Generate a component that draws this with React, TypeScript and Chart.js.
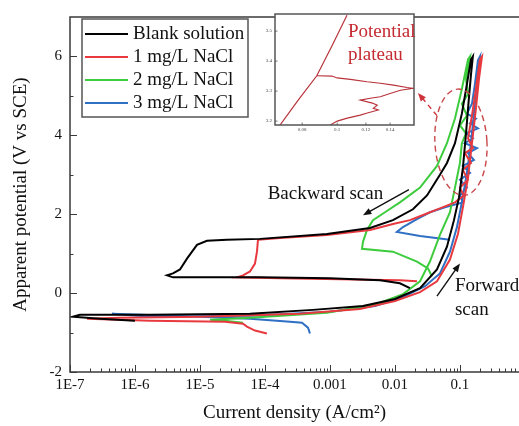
import React, { useEffect, useRef } from "react";
import { Chart, registerables } from "chart.js";
Chart.register(...registerables);

const FONT = "'Liberation Serif', 'Times New Roman', serif";
const AXIS_COLOR = "#3a3a3a";

const seriesLabels = ["Blank solution", "1 mg/L NaCl", "2 mg/L NaCl", "3 mg/L NaCl"];
const seriesColors = ["#000000", "#e8393f", "#3dcc3d", "#2f6fc4"];

const blankCurrent = [1.0e-6, 2.89e-7, 1.11e-7, 1.42e-7, 1.7e-6, 5.88e-5, 5.47e-4, 3.22e-3, 0.01, 0.0243, 0.0443, 0.0631, 0.0809, 0.0966, 0.111, 0.124, 0.137, 0.148, 0.158, 0.148, 0.128, 0.107, 0.0838, 0.0631, 0.0492, 0.0311, 0.0189, 9.31e-3, 4.13e-3, 8.99e-4, 8.38e-5, 2.6e-5, 1.28e-5, 8.99e-6, 6.31e-6, 4.92e-6, 3.84e-6, 3.11e-6, 3.84e-6, 8.38e-5, 1.0e-3, 5.88e-3, 0.0119, 0.017];
const blankPotential = [-0.7, -0.65, -0.6, -0.55, -0.55, -0.525, -0.425, -0.325, -0.15, 0.125, 0.6, 1.175, 1.85, 2.425, 3.175, 4.05, 4.925, 5.55, 6.0, 5.925, 5.3, 4.55, 3.8, 3.3, 3.0, 2.475, 2.125, 1.85, 1.65, 1.5, 1.375, 1.35, 1.325, 1.225, 0.875, 0.6, 0.5, 0.45, 0.4, 0.4, 0.375, 0.325, 0.25, 0.125];

const nacl1Current = [1.07e-4, 7.02e-5, 5.28e-5, 4.59e-5, 2.43e-5, 1.7e-6, 1.83e-7, 5.88e-7, 1.0e-5, 3.45e-4, 2.89e-3, 0.01, 0.0243, 0.0443, 0.0702, 0.0931, 0.111, 0.133, 0.153, 0.176, 0.196, 0.218, 0.203, 0.176, 0.153, 0.133, 0.158, 0.119, 0.148, 0.111, 0.133, 0.1, 0.115, 0.0838, 0.0492, 0.029, 0.017, 9.31e-3, 4.13e-3, 8.99e-4, 1.7e-4, 7.8e-5, 7.53e-5, 7.02e-5, 5.88e-5, 4.59e-5, 3.71e-5, 1.7e-4, 1.43e-3, 0.0119, 0.0218];
const nacl1Potential = [-1.025, -0.95, -0.85, -0.775, -0.725, -0.7, -0.65, -0.625, -0.6, -0.525, -0.4, -0.2, 0.025, 0.3, 0.85, 1.5, 2.175, 2.925, 3.8, 4.675, 5.425, 6.0, 5.925, 5.175, 4.5, 3.925, 3.675, 3.55, 3.3, 3.125, 2.875, 2.675, 2.475, 2.3, 2.15, 2.0, 1.85, 1.75, 1.6, 1.475, 1.4, 1.35, 1.05, 0.75, 0.55, 0.45, 0.4, 0.375, 0.35, 0.325, 0.3];

const nacl2Current = [4.59e-5, 2.43e-5, 1.43e-5, 5.88e-5, 8.99e-4, 5.28e-3, 0.0133, 0.0243, 0.0345, 0.0492, 0.0702, 0.0838, 0.1, 0.107, 0.124, 0.1, 0.128, 0.107, 0.133, 0.124, 0.137, 0.143, 0.133, 0.107, 0.0838, 0.0631, 0.0443, 0.0243, 0.0119, 7.02e-3, 4.59e-3, 3.71e-3, 3.22e-3, 3.11e-3, 9.31e-3, 0.0218, 0.0322, 0.0371];
const nacl2Potential = [-0.75, -0.7, -0.675, -0.625, -0.5, -0.275, -0.025, 0.3, 0.8, 1.475, 2.05, 2.675, 3.3, 3.8, 4.05, 4.25, 4.5, 4.8, 5.05, 5.425, 5.8, 6.0, 5.925, 5.175, 4.425, 3.8, 3.225, 2.675, 2.3, 2.05, 1.85, 1.6, 1.3, 1.125, 1.05, 0.8, 0.625, 0.425];

const nacl3Current = [4.92e-4, 4.59e-4, 3.71e-4, 2.43e-4, 5.88e-5, 1.0e-5, 4.43e-7, 1.7e-6, 5.88e-5, 1.0e-3, 4.92e-3, 0.0133, 0.029, 0.0492, 0.0702, 0.0899, 0.107, 0.128, 0.148, 0.164, 0.183, 0.196, 0.203, 0.189, 0.17, 0.153, 0.128, 0.176, 0.143, 0.189, 0.124, 0.158, 0.119, 0.183, 0.133, 0.164, 0.111, 0.143, 0.1, 0.128, 0.1, 0.111, 0.0588, 0.0345, 0.0218, 0.0133, 0.0107, 0.0243, 0.0702];
const nacl3Potential = [-1.025, -0.875, -0.75, -0.725, -0.65, -0.6, -0.525, -0.6, -0.575, -0.475, -0.325, -0.1, 0.175, 0.5, 1.05, 1.675, 2.3, 3.05, 3.8, 4.55, 5.3, 5.8, 6.0, 5.9, 5.3, 4.8, 4.55, 4.425, 4.3, 4.175, 4.05, 3.925, 3.8, 3.675, 3.55, 3.375, 3.225, 3.05, 2.875, 2.675, 2.475, 2.3, 2.175, 2.05, 1.875, 1.675, 1.55, 1.45, 1.35];

const xTickValues = [1e-7, 1e-6, 1e-5, 1e-4, 1e-3, 1e-2, 1e-1];
const xTickLabels = ["1E-7", "1E-6", "1E-5", "1E-4", "0.001", "0.01", "0.1"];
const yTickValues = [-2, 0, 2, 4, 6];

// inset (zoom on the potential plateau)
const insetDiagCurrent = [0.0695, 0.078, 0.0878, 0.0969, 0.1064];
const insetDiagPotential = [3.187, 3.27, 3.351, 3.453, 3.553];
const insetLoopCurrent = [0.0878, 0.0967, 0.0999, 0.1087, 0.1209, 0.1315, 0.143, 0.156, 0.162, 0.1495, 0.14, 0.1315, 0.1234, 0.1158, 0.125, 0.129, 0.1258, 0.1299, 0.1211, 0.1158, 0.1066, 0.1, 0.0957];
const insetLoopPotential = [3.351, 3.35, 3.344, 3.339, 3.331, 3.326, 3.32, 3.312, 3.309, 3.303, 3.292, 3.281, 3.276, 3.27, 3.26, 3.253, 3.243, 3.237, 3.227, 3.22, 3.21, 3.2, 3.187];
const insetXTicks = [0.08, 0.1, 0.12, 0.14];
const insetXLabels = ["0.08", "0.1", "0.12", "0.14"];
const insetYTicks = [3.2, 3.3, 3.4, 3.5];
const insetYLabels = ["3.2", "3.3", "3.4", "3.5"];

// annotation anchors in data units
const backwardText = { text: "Backward scan", x: 1.1e-4, y: 2.5 };
const backwardArrow = { x1: 0.0164, y1: 2.625, x2: 3.22e-3, y2: 1.975 };
const forwardText = { lines: ["Forward", "scan"], x: 0.0838, y: [0.175, -0.425] };
const forwardArrow = { x1: 0.0443, y1: -0.075, x2: 0.1, y2: 0.75 };
const ellipseBox = { x0: 0.0412, x1: 0.26, y0: 2.475, y1: 5.175 };
const plateauArrow = { x1: 0.0443, y1: 4.5, x2: 0.0226, y2: 5.075 };

function toPoints(xs: number[], ys: number[]) {
  return xs.map((x, i) => ({ x, y: ys[i] }));
}

function drawArrow(ctx: CanvasRenderingContext2D, x1: number, y1: number, x2: number, y2: number, color: string, dashed: boolean) {
  const a = Math.atan2(y2 - y1, x2 - x1);
  const head = 9;
  ctx.save();
  ctx.strokeStyle = color;
  ctx.fillStyle = color;
  ctx.lineWidth = 1.4;
  if (dashed) ctx.setLineDash([5, 4]);
  ctx.beginPath();
  ctx.moveTo(x1, y1);
  ctx.lineTo(x2 - Math.cos(a) * head * 0.7, y2 - Math.sin(a) * head * 0.7);
  ctx.stroke();
  ctx.setLineDash([]);
  ctx.beginPath();
  ctx.moveTo(x2, y2);
  ctx.lineTo(x2 - head * Math.cos(a - 0.38), y2 - head * Math.sin(a - 0.38));
  ctx.lineTo(x2 - head * Math.cos(a + 0.38), y2 - head * Math.sin(a + 0.38));
  ctx.closePath();
  ctx.fill();
  ctx.restore();
}

const mainDecor = {
  id: "mainDecor",
  afterDraw(chart: any) {
    const { ctx, chartArea: ca, scales } = chart;
    const xs = scales.x;
    const ys = scales.y;
    const px = (v: number) => xs.getPixelForValue(v);
    const py = (v: number) => ys.getPixelForValue(v);
    ctx.save();
    // frame
    ctx.strokeStyle = AXIS_COLOR;
    ctx.lineWidth = 1.5;
    ctx.beginPath();
    ctx.moveTo(ca.right, ca.top);
    ctx.lineTo(ca.left, ca.top);
    ctx.lineTo(ca.left, ca.bottom);
    ctx.lineTo(ca.right, ca.bottom);
    ctx.stroke();
    // inward ticks
    ctx.lineWidth = 1;
    ctx.beginPath();
    for (let e = -7; e <= 0; e++) {
      for (let m = 1; m <= 9; m++) {
        const v = m * Math.pow(10, e);
        if (v > xs.max) break;
        const x = Math.round(px(v)) + 0.5;
        const len = m === 1 ? 7 : 3.5;
        ctx.moveTo(x, ca.bottom);
        ctx.lineTo(x, ca.bottom - len);
      }
    }
    for (let v = -2; v <= 6; v++) {
      const y = Math.round(py(v)) + 0.5;
      const len = v % 2 === 0 ? 7 : 3.5;
      ctx.moveTo(ca.left, y);
      ctx.lineTo(ca.left + len, y);
    }
    ctx.stroke();

    // legend
    const lx = ca.left + 12;
    const ly = ca.top + 2;
    ctx.fillStyle = "#ffffff";
    ctx.fillRect(lx, ly, 166, 98);
    ctx.strokeStyle = "#555";
    ctx.lineWidth = 1.5;
    ctx.strokeRect(lx, ly, 166, 98);
    ctx.font = `19px ${FONT}`;
    ctx.textBaseline = "middle";
    ctx.textAlign = "left";
    chart.data.datasets.forEach((ds: any, i: number) => {
      const y = ca.top + 17 + i * 23;
      ctx.strokeStyle = ds.borderColor;
      ctx.lineWidth = 2;
      ctx.beginPath();
      ctx.moveTo(ca.left + 15, y);
      ctx.lineTo(ca.left + 58, y);
      ctx.stroke();
      ctx.fillStyle = "#111";
      ctx.fillText(ds.label, ca.left + 63, y);
    });

    // annotations
    ctx.fillStyle = "#111";
    ctx.fillText(backwardText.text, px(backwardText.x), py(backwardText.y));
    forwardText.lines.forEach((t, i) => ctx.fillText(t, px(forwardText.x), py(forwardText.y[i])));
    drawArrow(ctx, px(backwardArrow.x1), py(backwardArrow.y1), px(backwardArrow.x2), py(backwardArrow.y2), "#111", false);
    drawArrow(ctx, px(forwardArrow.x1), py(forwardArrow.y1), px(forwardArrow.x2), py(forwardArrow.y2), "#111", false);

    // dashed ellipse
    const ex0 = px(ellipseBox.x0), ex1 = px(ellipseBox.x1);
    const ey0 = py(ellipseBox.y1), ey1 = py(ellipseBox.y0);
    ctx.save();
    ctx.strokeStyle = "#c8474a";
    ctx.lineWidth = 1.4;
    ctx.setLineDash([6, 4]);
    ctx.beginPath();
    ctx.ellipse((ex0 + ex1) / 2, (ey0 + ey1) / 2, (ex1 - ex0) / 2, (ey1 - ey0) / 2, -0.06, 0, Math.PI * 2);
    ctx.stroke();
    ctx.restore();
    drawArrow(ctx, px(plateauArrow.x1), py(plateauArrow.y1), px(plateauArrow.x2), py(plateauArrow.y2), "#d0333a", true);
    ctx.restore();
  },
};

const insetDecor = {
  id: "insetDecor",
  beforeDraw(chart: any) {
    const { ctx, chartArea: ca } = chart;
    ctx.save();
    ctx.fillStyle = "#ffffff";
    ctx.fillRect(ca.left, ca.top, ca.right - ca.left, ca.bottom - ca.top);
    ctx.restore();
  },
  afterDraw(chart: any) {
    const { ctx, chartArea: ca, scales } = chart;
    ctx.save();
    ctx.strokeStyle = "#555";
    ctx.lineWidth = 1.5;
    ctx.strokeRect(ca.left, ca.top, ca.right - ca.left, ca.bottom - ca.top);
    ctx.lineWidth = 0.8;
    ctx.beginPath();
    insetXTicks.forEach((v) => {
      const x = scales.x.getPixelForValue(v);
      ctx.moveTo(x, ca.bottom);
      ctx.lineTo(x, ca.bottom - 2.5);
    });
    insetYTicks.forEach((v) => {
      const y = scales.y.getPixelForValue(v);
      ctx.moveTo(ca.left, y);
      ctx.lineTo(ca.left + 2.5, y);
    });
    ctx.stroke();
    ctx.fillStyle = "#c42a30";
    ctx.font = `19px ${FONT}`;
    ctx.textBaseline = "middle";
    ctx.textAlign = "left";
    ctx.fillText("Potential", ca.left + 73, ca.top + 18);
    ctx.fillText("plateau", ca.left + 73, ca.top + 41);
    ctx.restore();
  },
};

export default function App() {
  const mainRef = useRef<HTMLCanvasElement>(null);
  const insetRef = useRef<HTMLCanvasElement>(null);

  useEffect(() => {
    document.body.style.margin = "0";
    document.body.style.overflow = "hidden";
    const currents = [blankCurrent, nacl1Current, nacl2Current, nacl3Current];
    const potentials = [blankPotential, nacl1Potential, nacl2Potential, nacl3Potential];

    const main = new Chart(mainRef.current as HTMLCanvasElement, {
      type: "scatter",
      data: {
        datasets: seriesLabels.map((label, i) => ({
          label,
          data: toPoints(currents[i], potentials[i]),
          borderColor: seriesColors[i],
          backgroundColor: seriesColors[i],
          borderWidth: 2,
          pointRadius: 0,
          showLine: true,
          fill: false,
          tension: 0,
        })),
      },
      options: {
        responsive: false,
        animation: false,
        devicePixelRatio: 1,
        layout: { padding: { left: 0, top: 13, right: 0, bottom: 0 } },
        plugins: { legend: { display: false }, tooltip: { enabled: false } },
        scales: {
          x: {
            type: "logarithmic",
            position: "bottom",
            min: 1e-7,
            max: 0.81,
            afterBuildTicks: (s: any) => {
              s.ticks = xTickValues.map((v) => ({ value: v }));
            },
            afterFit: (s: any) => {
              s.height = 54;
            },
            ticks: {
              callback: (_v: any, i: number) => xTickLabels[i],
              padding: 4,
              autoSkip: false,
              maxRotation: 0,
              color: "#111",
              font: { family: FONT, size: 15 },
            },
            grid: { display: false, drawTicks: false },
            border: { display: false },
            title: {
              display: true,
              text: "Current density (A/cm²)",
              color: "#111",
              font: { family: FONT, size: 19 },
              padding: { top: 0, bottom: 2 },
            },
          },
          y: {
            type: "linear",
            min: -2,
            max: 7,
            afterBuildTicks: (s: any) => {
              s.ticks = yTickValues.map((v) => ({ value: v }));
            },
            afterFit: (s: any) => {
              s.width = 70;
            },
            ticks: {
              callback: (v: any) => String(v),
              padding: 8,
              color: "#111",
              font: { family: FONT, size: 15 },
            },
            grid: { display: false, drawTicks: false },
            border: { display: false },
            title: {
              display: true,
              text: "Apparent potential (V vs SCE)",
              color: "#111",
              font: { family: FONT, size: 19 },
              padding: { top: 10, bottom: 0 },
            },
          },
        },
      },
      plugins: [mainDecor],
    } as any);

    const inset = new Chart(insetRef.current as HTMLCanvasElement, {
      type: "scatter",
      data: {
        datasets: [
          {
            data: toPoints(insetDiagCurrent, insetDiagPotential),
            borderColor: "#b8323a",
            borderWidth: 1.2,
            pointRadius: 0,
            showLine: true,
          },
          {
            data: toPoints(insetLoopCurrent, insetLoopPotential),
            borderColor: "#b8323a",
            borderWidth: 1.1,
            pointRadius: 0,
            showLine: true,
          },
        ],
      },
      options: {
        responsive: false,
        animation: false,
        devicePixelRatio: 1,
        layout: { padding: { left: 0, top: 14, right: 11, bottom: 0 } },
        plugins: { legend: { display: false }, tooltip: { enabled: false } },
        scales: {
          x: {
            type: "logarithmic",
            min: 0.0673,
            max: 0.163,
            afterBuildTicks: (s: any) => {
              s.ticks = insetXTicks.map((v) => ({ value: v }));
            },
            afterFit: (s: any) => {
              s.height = 15;
            },
            ticks: {
              callback: (_v: any, i: number) => insetXLabels[i],
              padding: 2,
              autoSkip: false,
              maxRotation: 0,
              color: "#444",
              font: { family: FONT, size: 5 },
            },
            grid: { display: false, drawTicks: false },
            border: { display: false },
          },
          y: {
            type: "linear",
            min: 3.187,
            max: 3.557,
            afterBuildTicks: (s: any) => {
              s.ticks = insetYTicks.map((v) => ({ value: v }));
            },
            afterFit: (s: any) => {
              s.width = 20;
            },
            ticks: {
              callback: (_v: any, i: number) => insetYLabels[i],
              padding: 3,
              color: "#444",
              font: { family: FONT, size: 5 },
            },
            grid: { display: false, drawTicks: false },
            border: { display: false },
          },
        },
      },
      plugins: [insetDecor],
    } as any);

    return () => {
      main.destroy();
      inset.destroy();
    };
  }, []);

  return (
    <div style={{ position: "relative", width: 519, height: 426 }}>
      <canvas ref={mainRef} width={519} height={426} style={{ display: "block", position: "absolute", left: 0, top: 0 }} />
      <canvas ref={insetRef} width={170} height={140} style={{ display: "block", position: "absolute", left: 255, top: 0 }} />
    </div>
  );
}
